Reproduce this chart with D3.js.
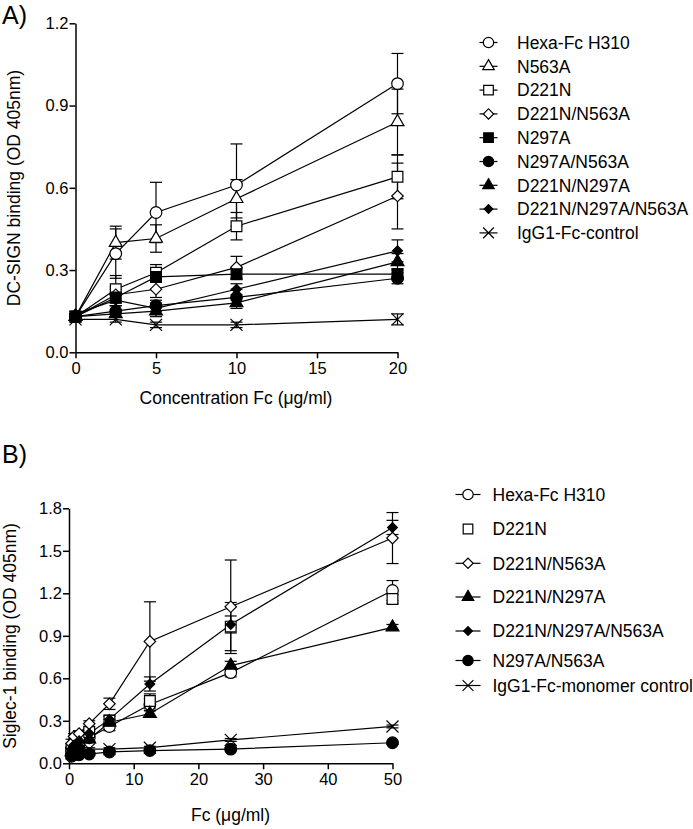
<!DOCTYPE html>
<html>
<head>
<meta charset="utf-8">
<script src="https://cdn.jsdelivr.net/npm/d3@7"></script>
<style>
  body { margin: 0; background: #fff; }
  svg text { font-family: "Liberation Sans", Arial, sans-serif; fill: #000; }
</style>
</head>
<body>
<svg id="chart" width="693" height="829"></svg>
<script>
// ---- panel A data: DC-SIGN binding ----
const concA = [0, 2.5, 5, 10, 20];
const hexaA = [0.13, 0.36, 0.51, 0.61, 0.98];
const hexaA_sd = [0.01, 0.09, 0.11, 0.15, 0.11];
const n563aA = [0.13, 0.40, 0.415, 0.56, 0.84];
const n563aA_sd = [0.01, 0.06, 0.05, 0.07, 0.12];
const d221nA = [0.13, 0.23, 0.29, 0.46, 0.64];
const d221nA_sd = [0.01, 0.05, 0.03, 0.05, 0.08];
const d221n_n563aA = [0.13, 0.21, 0.23, 0.31, 0.57];
const d221n_n563aA_sd = [0.01, 0.03, 0.03, 0.04, 0.12];
const n297aA = [0.13, 0.20, 0.275, 0.285, 0.285];
const n297aA_sd = [0.01, 0.03, 0.02, 0.02, 0.02];
const n297a_n563aA = [0.13, 0.15, 0.17, 0.20, 0.27];
const n297a_n563aA_sd = [0.01, 0.02, 0.02, 0.03, 0.02];
const d221n_n297aA = [0.13, 0.14, 0.15, 0.18, 0.33];
const d221n_n297aA_sd = [0.01, 0.01, 0.02, 0.02, 0.03];
const tripleA = [0.14, 0.19, 0.16, 0.23, 0.37];
const tripleA_sd = [0.01, 0.02, 0.02, 0.02, 0.04];
const igg1A = [0.12, 0.12, 0.10, 0.10, 0.12];
const igg1A_sd = [0.01, 0.01, 0.01, 0.01, 0.02];
const yTicksA = [0, 0.3, 0.6, 0.9, 1.2];
const xTicksA = [0, 5, 10, 15, 20];

// ---- panel B data: Siglec-1 binding ----
const concB = [0.39, 0.78, 1.56, 3.125, 6.25, 12.5, 25, 50];
const hexaB = [0.09, 0.12, 0.14, 0.18, 0.26, 0.415, 0.64, 1.22];
const hexaB_sd = [0.02, 0.02, 0.02, 0.02, 0.03, 0.04, 0.03, 0.07];
const d221nB = [0.10, 0.13, 0.16, 0.22, 0.30, 0.44, 0.965, 1.16];
const d221nB_sd = [0.02, 0.02, 0.02, 0.02, 0.03, 0.05, 0.17, 0.03];
const d221n_n563aB = [0.14, 0.19, 0.21, 0.28, 0.42, 0.86, 1.105, 1.59];
const d221n_n563aB_sd = [0.03, 0.02, 0.02, 0.02, 0.04, 0.28, 0.33, 0.18];
const d221n_n297aB = [0.08, 0.10, 0.12, 0.17, 0.29, 0.35, 0.69, 0.96];
const d221n_n297aB_sd = [0.01, 0.01, 0.01, 0.02, 0.02, 0.02, 0.03, 0.02];
const tripleB = [0.10, 0.13, 0.16, 0.21, 0.31, 0.56, 0.98, 1.665];
const tripleB_sd = [0.01, 0.01, 0.02, 0.02, 0.03, 0.05, 0.06, 0.05];
const n297a_n563aB = [0.05, 0.06, 0.06, 0.065, 0.08, 0.09, 0.10, 0.145];
const n297a_n563aB_sd = [0.01, 0.01, 0.01, 0.01, 0.01, 0.01, 0.01, 0.01];
const igg1B = [0.07, 0.08, 0.09, 0.10, 0.10, 0.11, 0.165, 0.26];
const igg1B_sd = [0.01, 0.01, 0.01, 0.01, 0.01, 0.01, 0.01, 0.01];
const yTicksB = [0, 0.3, 0.6, 0.9, 1.2, 1.5, 1.8];
const xTicksB = [0, 10, 20, 30, 40, 50];

// marker shapes
const shapes = {
  circle:   { type: d3.symbolCircle, size: 106, rot: 0 },
  square:   { type: d3.symbolSquare, size: 115, rot: 0 },
  triangle: { type: d3.symbolTriangle, size: 72, rot: 0 },
  diamond:  { type: d3.symbolSquare, size: 66, rot: 45 },
  sdiamond: { type: d3.symbolSquare, size: 48, rot: 45 },
  cross:    { type: d3.symbolX, size: 96, rot: 0 }
};

function mk(name, mean, sd, shape, filled, line) {
  return { name, mean, sd, shape, filled, line: line !== false };
}

const seriesA = [
  mk("Hexa-Fc H310", hexaA, hexaA_sd, "circle", false),
  mk("N563A", n563aA, n563aA_sd, "triangle", false),
  mk("D221N", d221nA, d221nA_sd, "square", false),
  mk("D221N/N563A", d221n_n563aA, d221n_n563aA_sd, "diamond", false),
  mk("N297A", n297aA, n297aA_sd, "square", true),
  mk("N297A/N563A", n297a_n563aA, n297a_n563aA_sd, "circle", true),
  mk("D221N/N297A", d221n_n297aA, d221n_n297aA_sd, "triangle", true),
  mk("D221N/N297A/N563A", tripleA, tripleA_sd, "sdiamond", true),
  mk("IgG1-Fc-control", igg1A, igg1A_sd, "cross", false)
];

const seriesB = [
  mk("Hexa-Fc H310", hexaB, hexaB_sd, "circle", false),
  mk("D221N", d221nB, d221nB_sd, "square", false, false),
  mk("D221N/N563A", d221n_n563aB, d221n_n563aB_sd, "diamond", false),
  mk("D221N/N297A", d221n_n297aB, d221n_n297aB_sd, "triangle", true),
  mk("D221N/N297A/N563A", tripleB, tripleB_sd, "sdiamond", true),
  mk("N297A/N563A", n297a_n563aB, n297a_n563aB_sd, "circle", true),
  mk("IgG1-Fc-monomer control", igg1B, igg1B_sd, "cross", false)
];

const svg = d3.select("#chart");

function symbolPath(shapeKey, scale) {
  const s = shapes[shapeKey];
  return d3.symbol().type(s.type).size(s.size * (scale || 1))();
}

function drawMarker(g, cx, cy, d, scale) {
  const s = shapes[d.shape];
  g.append("path")
    .attr("d", symbolPath(d.shape, scale))
    .attr("transform", `translate(${cx},${cy}) rotate(${s.rot})`)
    .attr("fill", d.shape === "cross" ? "none" : (d.filled ? "#000" : "#fff"))
    .attr("stroke", "#000")
    .attr("stroke-width", 1.2);
}

function drawPanel(opt) {
  const { xs, series, x, y, xTicks, yTicks } = opt;
  const g = svg.append("g");

  // axes
  const yAxis = g.append("g")
    .attr("transform", `translate(${x.range()[0]},0)`)
    .call(d3.axisLeft(y).tickValues(yTicks).tickFormat(d3.format(".1f"))
      .tickSize(6).tickSizeOuter(0).tickPadding(1));
  const xAxis = g.append("g")
    .attr("transform", `translate(0,${y.range()[0]})`)
    .call(d3.axisBottom(x).tickValues(xTicks).tickFormat(d3.format("d"))
      .tickSize(6).tickSizeOuter(0).tickPadding(3.5));
  [xAxis, yAxis].forEach(a => {
    a.selectAll("path, line").attr("stroke", "#000").attr("stroke-width", 1.5);
    a.selectAll("text").attr("font-size", 16.5).attr("font-family", '"Liberation Sans", Arial, sans-serif').attr("fill", "#000");
  });

  const capW = 6;
  // error bars
  series.forEach(s => {
    s.mean.forEach((m, i) => {
      const cx = x(xs[i]);
      const y1 = y(m + s.sd[i]), y0 = y(Math.max(0, m - s.sd[i]));
      const eb = g.append("g").attr("stroke", "#000").attr("stroke-width", 1.2);
      eb.append("line").attr("x1", cx).attr("x2", cx).attr("y1", y0).attr("y2", y1);
      eb.append("line").attr("x1", cx - capW).attr("x2", cx + capW).attr("y1", y1).attr("y2", y1);
      eb.append("line").attr("x1", cx - capW).attr("x2", cx + capW).attr("y1", y0).attr("y2", y0);
    });
  });

  // connecting lines
  const line = d3.line().x((d, i) => x(xs[i])).y(d => y(d));
  series.filter(s => s.line).forEach(s => {
    g.append("path").attr("d", line(s.mean))
      .attr("fill", "none").attr("stroke", "#000").attr("stroke-width", 1.2);
  });

  // markers
  series.forEach(s => {
    s.mean.forEach((m, i) => drawMarker(g, x(xs[i]), y(m), s));
  });
}

function drawLegend(series, lx, tx, rows, half) {
  const g = svg.append("g");
  series.forEach((s, i) => {
    const cy = rows[i];
    if (s.line) {
      g.append("line").attr("x1", lx - half).attr("x2", lx + half)
        .attr("y1", cy).attr("y2", cy)
        .attr("stroke", "#000").attr("stroke-width", 1.2);
    }
    drawMarker(g, lx, cy, s, 0.8);
    g.append("text").attr("x", tx).attr("y", cy + 6.2)
      .attr("font-size", 17.5).text(s.name);
  });
}

// ---- panel A ----
const xScaleA = d3.scaleLinear().domain([0, 20]).range([75.5, 397.5]);
const yScaleA = d3.scaleLinear().domain([0, 1.2]).range([352.3, 23.3]);
drawPanel({ xs: concA, series: seriesA, x: xScaleA, y: yScaleA, xTicks: xTicksA, yTicks: yTicksA });

svg.append("text").attr("x", 2).attr("y", 24).attr("font-size", 25).text("A)");
svg.append("text").attr("transform", "translate(19.5,188) rotate(-90)")
  .attr("text-anchor", "middle").attr("font-size", 17.5).text("DC-SIGN binding (OD 405nm)");
svg.append("text").attr("x", 236).attr("y", 403.5)
  .attr("text-anchor", "middle").attr("font-size", 17.5).text("Concentration Fc (\u03bcg/ml)");

drawLegend(seriesA, 488.5, 517, d3.range(9).map(i => 42.5 + i * 23.8), 9);

// ---- panel B ----
const xScaleB = d3.scaleLinear().domain([0, 50]).range([69, 392.5]);
const yScaleB = d3.scaleLinear().domain([0, 1.8]).range([763.3, 508.3]);
drawPanel({ xs: concB, series: seriesB, x: xScaleB, y: yScaleB, xTicks: xTicksB, yTicks: yTicksB });

svg.append("text").attr("x", 2).attr("y", 463).attr("font-size", 25).text("B)");
svg.append("text").attr("transform", "translate(16,636) rotate(-90)")
  .attr("text-anchor", "middle").attr("font-size", 17.5).text("Siglec-1 binding (OD 405nm)");
svg.append("text").attr("x", 230.5).attr("y", 820.5)
  .attr("text-anchor", "middle").attr("font-size", 17.5).text("Fc (\u03bcg/ml)");

drawLegend(seriesB, 468, 492.5, [494.5, 529, 563.3, 597, 631, 660.5, 685.5], 12.5);
</script>
</body>
</html>
